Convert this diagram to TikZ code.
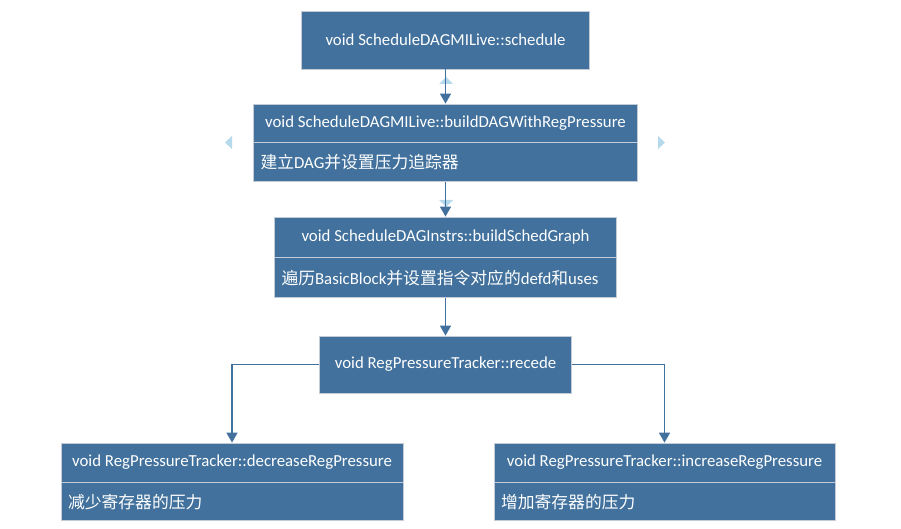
\documentclass[tikz,border=0pt]{standalone}
\usepackage{fontspec}
\setmainfont{Carlito}
\newfontfamily\cjk{Noto Sans CJK SC}
\usetikzlibrary{positioning}
\usetikzlibrary{arrows.meta}
\definecolor{boxblue}{HTML}{41719C}
\definecolor{boxline}{HTML}{C3CCD6}
\definecolor{handle}{HTML}{B4DAEC}
\newcommand{\zh}[1]{{\cjk #1}}

\begin{document}
\begin{tikzpicture}[x=1pt, y=-1pt,
    every node/.style={font=\fontsize{16.8}{19}\selectfont, text=white},
    head/.style={rectangle, draw=boxline, line width=0.8pt, fill=boxblue, inner sep=0pt},
    body/.style={rectangle, draw=boxline, line width=0.8pt, fill=boxblue, inner xsep=7pt, inner ysep=0pt, align=left},
    conn/.style={draw=boxblue, line width=1.6pt, -{Triangle[width=11pt, length=10pt]}}]
  \useasboundingbox (0,0) rectangle (901,529);
  % selection handles
  \fill[handle] (439,84) -- (446,77) -- (453,84) -- cycle;
  \fill[handle] (439,200) -- (446,207) -- (453,200) -- cycle;
  \fill[handle] (232,136) -- (225,142.5) -- (232,149) -- cycle;
  \fill[handle] (658,136) -- (665,142.5) -- (658,149) -- cycle;
  % boxes
  \node[head, minimum width=288pt, minimum height=58pt] (sched) at (445.5,40) {void ScheduleDAGMILive::schedule};
  \node[head, minimum width=384pt, minimum height=38pt] (dagH) at (445.5,123) {void ScheduleDAGMILive::buildDAGWithRegPressure};
  \node[body, text width=370pt, minimum height=39pt, below=0pt of dagH] (dagB) {\zh{建立}DAG\zh{并设置压力追踪器}};
  \node[head, minimum width=342pt, minimum height=40pt] (graphH) at (445.5,237) {void ScheduleDAGInstrs::buildSchedGraph};
  \node[body, text width=328pt, minimum height=40pt, below=0pt of graphH] (graphB) {\zh{遍历}BasicBlock\zh{并设置指令对应的}defd\zh{和}uses};
  \node[head, minimum width=252pt, minimum height=57pt] (recede) at (445.5,364.5) {void RegPressureTracker::recede};
  \node[head, minimum width=342pt, minimum height=39pt] (decH) at (232,462.5) {void RegPressureTracker::decreaseRegPressure};
  \node[body, text width=328pt, minimum height=38pt, below=0pt of decH] (decB) {\zh{减少寄存器的压力}};
  \node[head, minimum width=341pt, minimum height=39pt] (incH) at (664.5,462.5) {void RegPressureTracker::increaseRegPressure};
  \node[body, text width=327pt, minimum height=38pt, below=0pt of incH] (incB) {\zh{增加寄存器的压力}};
  % connectors
  \draw[conn] (sched) -- (dagH);
  \draw[conn] (dagB) -- (graphH);
  \draw[conn] (graphB) -- (recede);
  \draw[conn] (recede.west) -| (decH.north);
  \draw[conn] (recede.east) -| (incH.north);
\end{tikzpicture}
\end{document}
